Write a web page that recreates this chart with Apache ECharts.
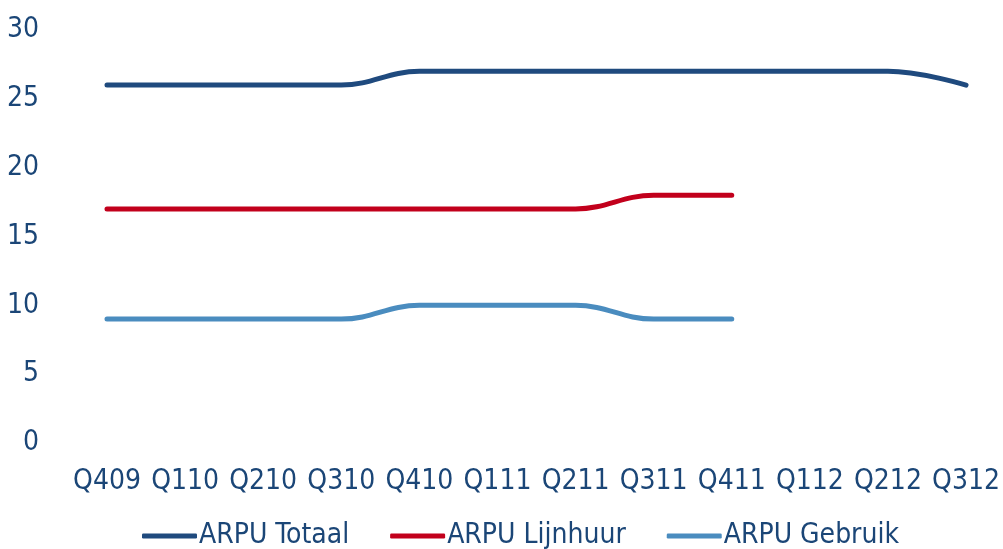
<!DOCTYPE html>
<html>
<head>
<meta charset="utf-8">
<script src="https://cdn.jsdelivr.net/npm/echarts@6/dist/echarts.min.js"></script>
<style>
  html, body { margin: 0; padding: 0; background: #fff; }
  #chart { width: 1003px; height: 549px; }
</style>
</head>
<body>
<div id="chart"></div>
<script>
// Quarterly ARPU (EUR)
const quarters = ['Q409', 'Q110', 'Q210', 'Q310', 'Q410', 'Q111', 'Q211', 'Q311', 'Q411', 'Q112', 'Q212', 'Q312'];
const arpuTotaal = [26, 26, 26, 26, 27, 27, 27, 27, 27, 27, 27, 26];
const arpuLijnhuur = [17, 17, 17, 17, 17, 17, 17, 18, 18];
const arpuGebruik = [9, 9, 9, 9, 10, 10, 10, 9, 9];
const yTicks = [0, 5, 10, 15, 20, 25, 30];

const FONT = '"Liberation Sans Narrow", "Arial Narrow", "DejaVu Sans Condensed", sans-serif';
const TEXT = '#1b4677';
const FS = 28;

function lineSeries(name, data, color) {
  return {
    name: name,
    type: 'line',
    data: data,
    smooth: 0.4,
    showSymbol: false,
    symbol: 'none',
    lineStyle: { color: color, width: 5, cap: 'round', join: 'round' },
    itemStyle: { color: color }
  };
}

const chart = echarts.init(document.getElementById('chart'), null, { renderer: 'canvas' });
chart.setOption({
  animation: false,
  backgroundColor: '#fff',
  textStyle: { fontFamily: FONT },
  grid: { left: 107, right: 34, top: 30, bottom: 106, containLabel: false },
  xAxis: {
    type: 'category',
    data: quarters,
    boundaryGap: false,
    axisLine: { show: false },
    axisTick: { show: false },
    splitLine: { show: false },
    axisLabel: { color: TEXT, fontSize: FS, fontFamily: FONT, margin: 25, interval: 0 }
  },
  yAxis: {
    type: 'value',
    min: yTicks[0],
    max: yTicks[yTicks.length - 1],
    interval: yTicks[1] - yTicks[0],
    axisLine: { show: false },
    axisTick: { show: false },
    splitLine: { show: false },
    axisLabel: { color: TEXT, fontSize: FS, fontFamily: FONT, margin: 68 }
  },
  legend: {
    left: 137,
    top: 517,
    icon: 'roundRect',
    itemWidth: 55,
    itemHeight: 5,
    itemGap: 41,
    textStyle: { color: TEXT, fontSize: FS, fontFamily: FONT, padding: [0, 0, 0, -3] },
    data: ['ARPU Totaal', 'ARPU Lijnhuur', 'ARPU Gebruik']
  },
  series: [
    lineSeries('ARPU Totaal', arpuTotaal, '#1f4a7e'),
    lineSeries('ARPU Lijnhuur', arpuLijnhuur, '#c2001c'),
    lineSeries('ARPU Gebruik', arpuGebruik, '#4a8cbf')
  ]
});
</script>
</body>
</html>
